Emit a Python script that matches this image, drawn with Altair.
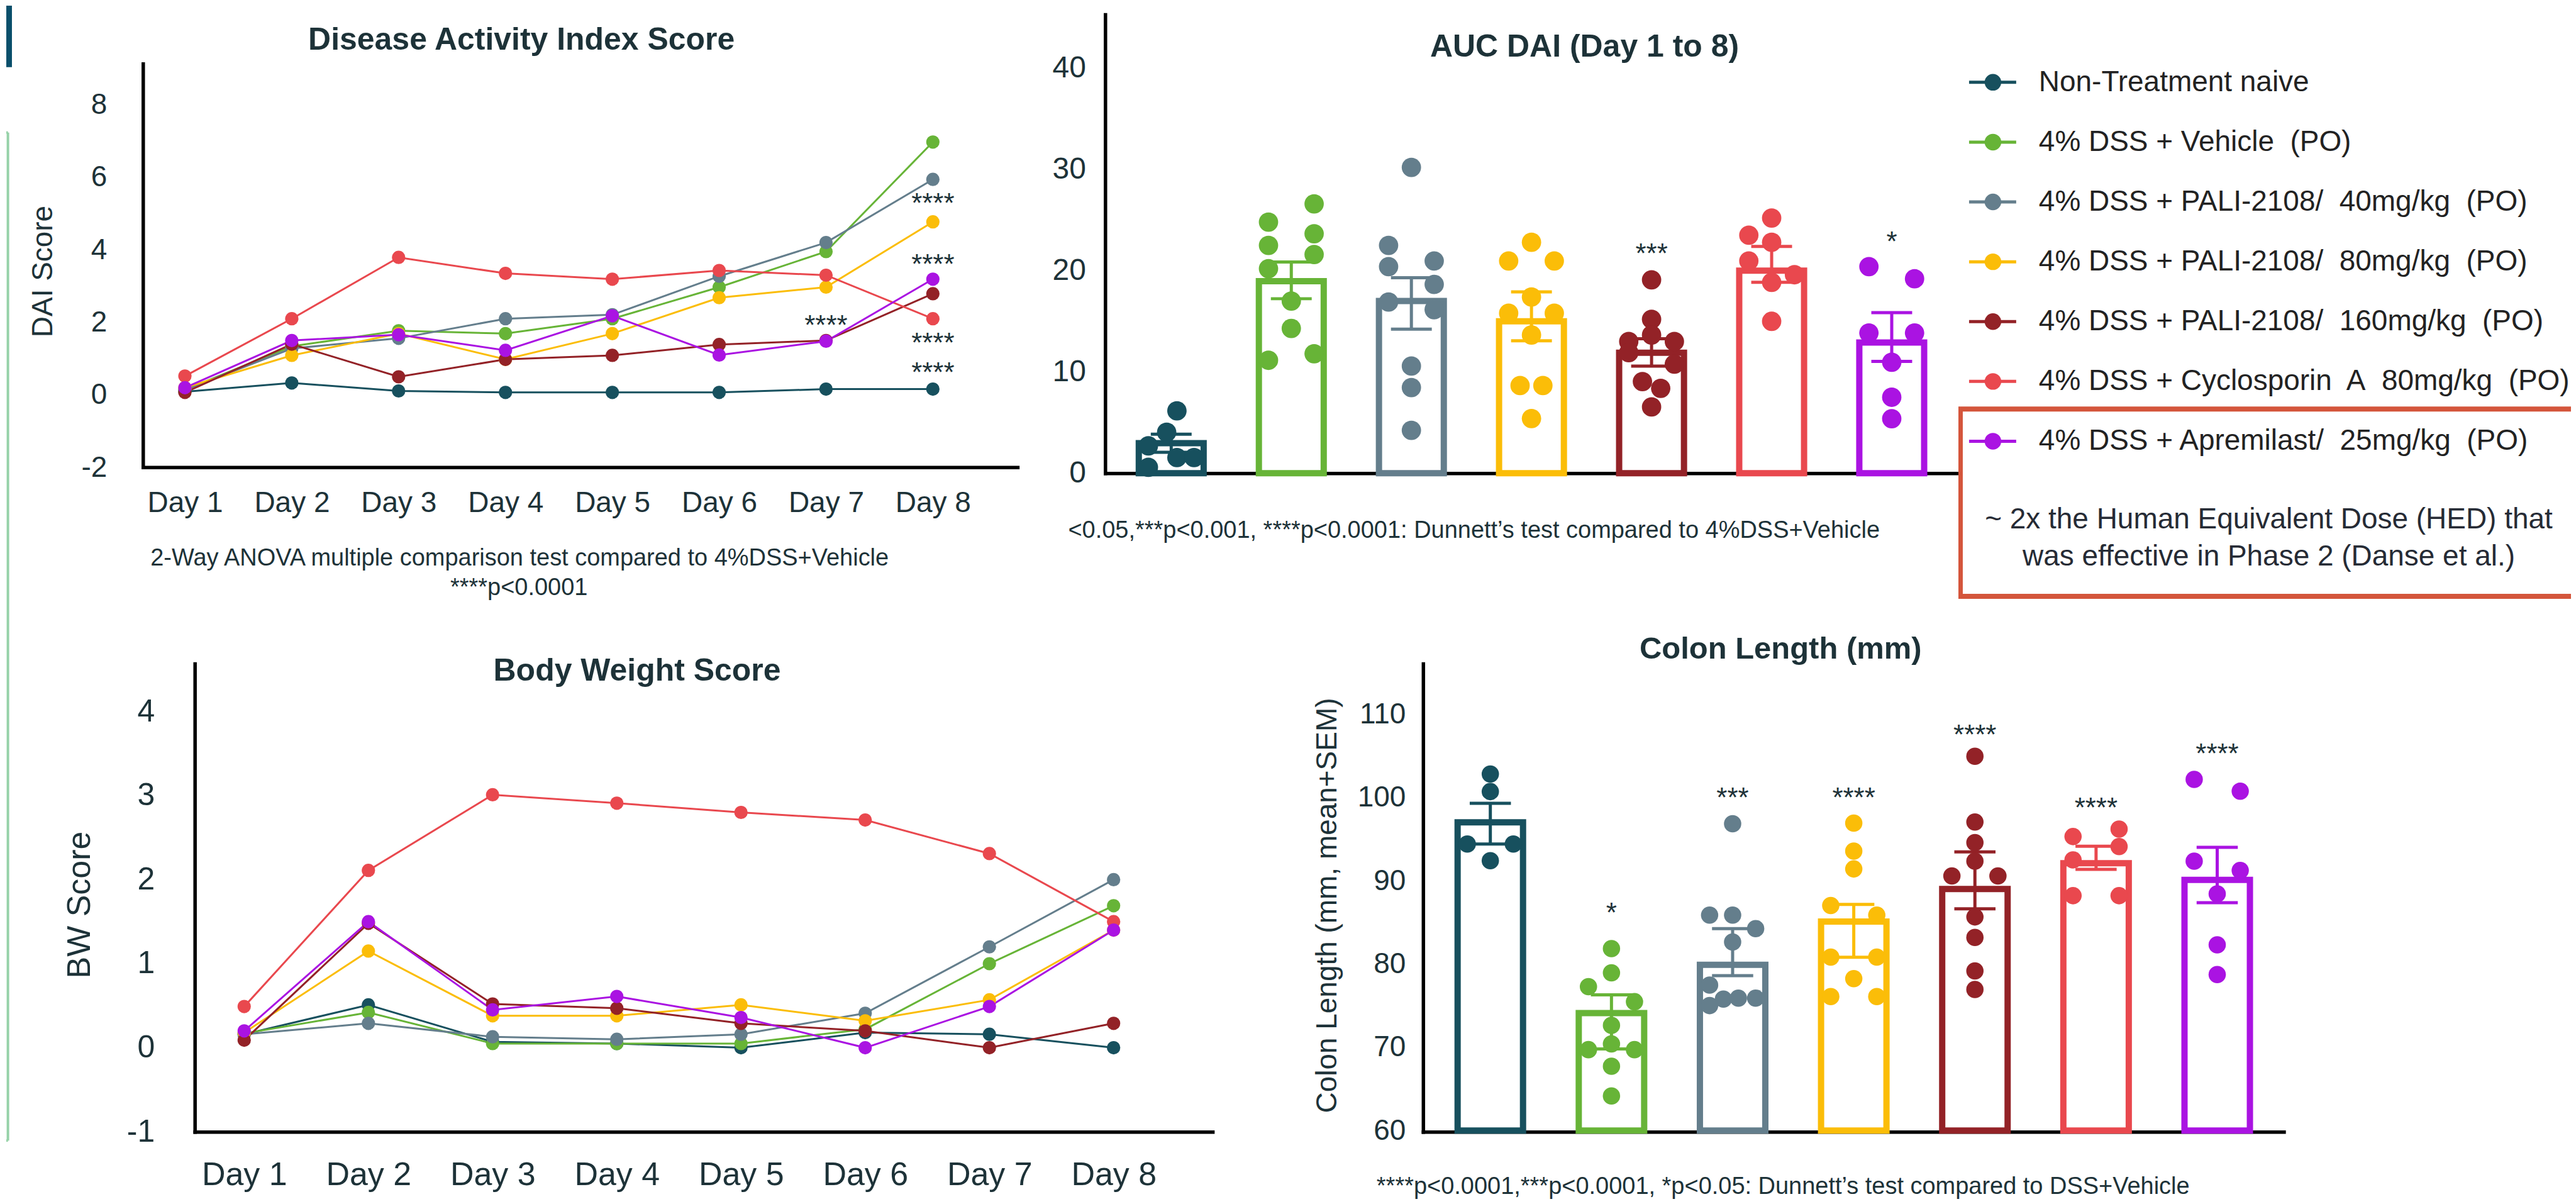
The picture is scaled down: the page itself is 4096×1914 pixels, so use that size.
import altair as alt
import pandas as pd

FONT = "Liberation Sans"
TXT = "#1d3238"

GROUPS = [
    "Non-Treatment naive",
    "4% DSS + Vehicle (PO)",
    "4% DSS + PALI-2108/ 40mg/kg (PO)",
    "4% DSS + PALI-2108/ 80mg/kg (PO)",
    "4% DSS + PALI-2108/ 160mg/kg (PO)",
    "4% DSS + Cyclosporin A 80mg/kg (PO)",
    "4% DSS + Apremilast/ 25mg/kg (PO)",
]
LEGEND_TEXT = [
    "Non-Treatment naive",
    "4% DSS + Vehicle\u00a0 (PO)",
    "4% DSS + PALI-2108/\u00a0 40mg/kg\u00a0 (PO)",
    "4% DSS + PALI-2108/\u00a0 80mg/kg\u00a0 (PO)",
    "4% DSS + PALI-2108/\u00a0 160mg/kg\u00a0 (PO)",
    "4% DSS + Cyclosporin\u00a0 A\u00a0 80mg/kg\u00a0 (PO)",
    "4% DSS + Apremilast/\u00a0 25mg/kg\u00a0 (PO)",
]
COLORS = ["#17505e", "#67b437", "#647e8c", "#fbbd08", "#932227", "#e9484e", "#aa13e2"]

DAYS = [1, 2, 3, 4, 5, 6, 7, 8]

# Disease Activity Index score per day
dai_naive = [0.09, 0.33, 0.11, 0.07, 0.07, 0.07, 0.16, 0.16]
dai_vehicle = [0.14, 1.34, 1.77, 1.69, 2.10, 2.97, 3.95, 6.97]
dai_p40 = [0.14, 1.28, 1.56, 2.10, 2.21, 3.27, 4.20, 5.94]
dai_p80 = [0.20, 1.09, 1.69, 0.98, 1.69, 2.68, 2.97, 4.77]
dai_p160 = [0.07, 1.40, 0.50, 0.98, 1.09, 1.39, 1.50, 2.79]
dai_cyclo = [0.52, 2.10, 3.79, 3.35, 3.19, 3.43, 3.30, 2.10]
dai_apre = [0.20, 1.50, 1.66, 1.23, 2.18, 1.10, 1.48, 3.19]
dai_star_day = [8, 8, 8, 8, 7]
dai_star_val = [5.45, 3.77, 1.61, 0.79, 2.10]
dai_star_txt = ["****", "****", "****", "****", "****"]

# Body weight score per day
bw_naive = [0.16, 0.51, 0.07, 0.05, 0.00, 0.18, 0.16, 0.00]
bw_vehicle = [0.17, 0.42, 0.05, 0.05, 0.05, 0.22, 1.00, 1.69]
bw_p40 = [0.16, 0.29, 0.13, 0.10, 0.16, 0.41, 1.20, 2.00]
bw_p80 = [0.18, 1.15, 0.38, 0.38, 0.51, 0.32, 0.57, 1.40]
bw_p160 = [0.09, 1.48, 0.52, 0.47, 0.29, 0.20, 0.00, 0.29]
bw_cyclo = [0.49, 2.11, 3.01, 2.91, 2.80, 2.71, 2.31, 1.50]
bw_apre = [0.20, 1.50, 0.45, 0.61, 0.36, 0.00, 0.49, 1.40]

# AUC DAI (bars: mean, error bar ends; dots: individual animals, lane = dot column)
auc_mean = [2.96, 18.96, 17.0, 15.0, 11.9, 20.0, 12.9]
auc_hi = [3.85, 20.85, 19.3, 17.9, 13.27, 22.4, 15.85]
auc_lo = [2.07, 17.23, 14.23, 13.08, 10.58, 18.85, 11.04]
auc_v_naive = [6.15, 4.04, 2.7, 1.54, 1.54, 0.58]
auc_l_naive = [0.25, -0.2, -1, 0.25, 1, -1]
auc_v_vehicle = [24.8, 26.6, 23.65, 22.5, 21.6, 20.2, 17.0, 14.3, 11.8, 11.15]
auc_l_vehicle = [-1, 1, 1, -1, 1, -1, 0, 0, 1, -1]
auc_v_p40 = [30.2, 22.5, 20.96, 20.4, 18.65, 16.9, 16.15, 10.58, 8.46, 4.23]
auc_l_p40 = [0, -1, 1, -1, 1, -1, 1, 0, 0, 0]
auc_v_p80 = [22.8, 20.96, 20.96, 17.4, 15.8, 15.8, 13.65, 8.65, 8.65, 5.4]
auc_l_p80 = [0, -1, 1, 0, -1, 1, 0, -0.5, 0.5, 0]
auc_v_p160 = [19.1, 15.2, 13.65, 13.0, 13.0, 11.9, 10.77, 9.04, 8.38, 6.54]
auc_l_p160 = [0, 0, 0, -1, 1, -1, 1, -0.4, 0.4, 0]
auc_v_cyclo = [25.2, 23.5, 22.8, 20.96, 19.6, 18.85, 15.0]
auc_l_cyclo = [0, -1, 0, -1, 1, 0, 0]
auc_v_apre = [20.4, 19.2, 13.85, 13.85, 10.96, 7.5, 5.38]
auc_l_apre = [-1, 1, -1, 1, 0, 0, 0]
auc_star_i = [4, 6]
auc_star_val = [22.3, 23.5]
auc_star_txt = ["***", "*"]

# Colon length
col_mean = [97.0, 74.1, 79.9, 85.1, 89.0, 92.1, 90.1]
col_hi = [99.3, 76.3, 84.25, 87.15, 93.46, 94.14, 94.0]
col_lo = [94.4, 69.8, 78.6, 80.8, 86.63, 91.37, 87.35]
col_v_naive = [102.8, 100.7, 94.4, 94.4, 92.4]
col_l_naive = [0, 0, -1, 1, 0]
col_v_vehicle = [81.85, 78.93, 77.28, 75.47, 72.63, 70.4, 69.71, 69.71, 67.72, 64.15]
col_l_vehicle = [0, 0, -1, 1, 0, 0, -1, 1, 0, 0]
col_v_p40 = [96.84, 85.86, 85.86, 84.25, 82.63, 77.46, 75.78, 75.9, 75.9, 75.0]
col_l_p40 = [0, -1, 0, 1, 0, -1, -0.4, 0.25, 1, -1]
col_v_p80 = [96.92, 93.56, 91.41, 87.02, 85.86, 80.82, 80.82, 78.24, 76.09, 76.09]
col_l_p80 = [0, 0, 0, -1, 1, -1, 1, 0, -1, 1]
col_v_p160 = [104.94, 97.04, 94.58, 92.35, 90.57, 90.57, 85.65, 83.19, 79.17, 76.94]
col_l_p160 = [0, 0, 0, 0, -1, 1, 0, 0, 0, 0]
col_v_cyclo = [96.2, 95.3, 94.1, 92.5, 88.2, 88.2]
col_l_cyclo = [1, -1, 1, -1, -1, 1]
col_v_apre = [102.17, 100.74, 92.35, 91.23, 88.42, 82.3, 78.73]
col_l_apre = [-1, 1, -1, 1, 0, 0, 0]
col_star_i = [1, 2, 3, 4, 5, 6]
col_star_val = [86.9, 100.7, 100.7, 108.3, 99.5, 106.0]
col_star_txt = ["*", "***", "****", "****", "****", "****"]

# ---------------------------------------------------------------- tables
def long_df(series):
    rows = []
    for k, s in enumerate(series):
        for d, v in zip(DAYS, s):
            rows.append({"g": GROUPS[k], "day": d, "v": v})
    return pd.DataFrame(rows)


def dots_df(vals, lanes):
    rows = []
    for k, (vs, ls) in enumerate(zip(vals, lanes)):
        for v, l in zip(vs, ls):
            rows.append({"g": GROUPS[k], "i": k, "lane": l, "v": v})
    return pd.DataFrame(rows)


def bars_df(mean, lo, hi):
    return pd.DataFrame({"g": GROUPS, "i": list(range(len(GROUPS))),
                         "mean": mean, "lo": lo, "hi": hi})


dai_df = long_df([dai_naive, dai_vehicle, dai_p40, dai_p80, dai_p160, dai_cyclo, dai_apre])
bw_df = long_df([bw_naive, bw_vehicle, bw_p40, bw_p80, bw_p160, bw_cyclo, bw_apre])
dai_star_df = pd.DataFrame({"day": dai_star_day, "v": dai_star_val, "t": dai_star_txt})
auc_dots = dots_df([auc_v_naive, auc_v_vehicle, auc_v_p40, auc_v_p80, auc_v_p160, auc_v_cyclo, auc_v_apre],
                   [auc_l_naive, auc_l_vehicle, auc_l_p40, auc_l_p80, auc_l_p160, auc_l_cyclo, auc_l_apre])
auc_bars = bars_df(auc_mean, auc_lo, auc_hi)
auc_star_df = pd.DataFrame({"i": auc_star_i, "v": auc_star_val, "t": auc_star_txt})
col_dots = dots_df([col_v_naive, col_v_vehicle, col_v_p40, col_v_p80, col_v_p160, col_v_cyclo, col_v_apre],
                   [col_l_naive, col_l_vehicle, col_l_p40, col_l_p80, col_l_p160, col_l_cyclo, col_l_apre])
col_bars = bars_df(col_mean, col_lo, col_hi)
col_star_df = pd.DataFrame({"i": col_star_i, "v": col_star_val, "t": col_star_txt})
leg_df = pd.DataFrame({"g": GROUPS, "li": list(range(len(GROUPS))), "label": LEGEND_TEXT})
ONE = pd.DataFrame({"a": [0]})

COLOR_SCALE = alt.Scale(domain=GROUPS, range=COLORS)


def color():
    return alt.Color("g:N", scale=COLOR_SCALE, legend=None)


def txt(s, x, y, size, bold=False, angle=0, col=TXT, align="center"):
    kw = dict(text=s, font=FONT, fontSize=size, fontWeight="bold" if bold else "normal",
              align=align, baseline="middle", color=col)
    if angle:
        kw["angle"] = angle
    return alt.Chart(ONE).mark_text(**kw).encode(x=alt.value(x), y=alt.value(y))


def spacer(w, h):
    return alt.Chart(ONE).mark_point(opacity=0).encode(
        x=alt.value(0), y=alt.value(0)).properties(width=w, height=h)


# ---------------------------------------------------------------- DAI panel
W_DAI, H_TOP = 1392, 730
dai_xs = alt.Scale(domain=[0.61, 8.795], nice=False, zero=False)
dai_ys = alt.Scale(domain=[-2.156, 10.487], nice=False, zero=False)
dai_xa = alt.Axis(values=DAYS, labelExpr="'Day ' + datum.value", domain=False,
                  labelFontSize=46, labelPadding=25, title=None, labelFlush=False,
                  labelOverlap=False)
dai_ya = alt.Axis(values=[-2, 0, 2, 4, 6, 8], labelExpr="'' + datum.value", domain=False,
                  labelFontSize=46, labelPadding=58, title=None)


def dx(f):
    return alt.X(f, scale=dai_xs, axis=dai_xa)


def dy(f):
    return alt.Y(f, scale=dai_ys, axis=dai_ya)


GREEN = "#96d2a8"
dai = alt.layer(
    alt.Chart(ONE).mark_rect(color="#0a4f6b").encode(
        x=alt.value(-218), x2=alt.value(-209), y=alt.value(-14), y2=alt.value(84)),
    alt.Chart(ONE).mark_rule(color=GREEN, strokeWidth=4).encode(
        x=alt.value(-215.4), y=alt.value(188), y2=alt.value(1792)),
    alt.Chart(ONE).mark_rule(color=GREEN, strokeWidth=4).encode(
        x=alt.value(-218), x2=alt.value(-215.4), y=alt.value(188)),
    alt.Chart(ONE).mark_rule(color=GREEN, strokeWidth=4).encode(
        x=alt.value(-218), x2=alt.value(-215.4), y=alt.value(1792)),
    alt.Chart(ONE).mark_rule(color="black", strokeWidth=5.5, strokeCap="square").encode(
        x=alt.value(0), y=alt.datum(-2), y2=alt.datum(9.119)),
    alt.Chart(ONE).mark_rule(color="black", strokeWidth=5.5, strokeCap="square").encode(
        y=alt.datum(-2), x=alt.value(0), x2=alt.value(W_DAI)),
    alt.Chart(dai_df).mark_line(strokeWidth=3).encode(x=dx("day:Q"), y=dy("v:Q"), color=color()),
    alt.Chart(dai_df).mark_circle(size=450, opacity=1).encode(x=dx("day:Q"), y=dy("v:Q"), color=color()),
    alt.Chart(dai_star_df).mark_text(font=FONT, fontSize=44, dy=12, color=TXT).encode(
        x=dx("day:Q"), y=dy("v:Q"), text="t:N"),
    txt("Disease Activity Index Score", 602, 41, 50, bold=True),
    txt("DAI Score", -159, 409, 46, angle=270),
    txt("2-Way ANOVA multiple comparison test compared to 4%DSS+Vehicle", 599, 866, 38),
    txt("****p<0.0001", 598, 913, 38),
).properties(width=W_DAI, height=H_TOP)

# ---------------------------------------------------------------- bar + dots panels
def bar_panel(bars, dots, stars, xs, ys, xa, ya, base, dot_size):
    def bx(f):
        return alt.X(f, scale=xs, axis=xa)

    def by(f):
        return alt.Y(f, scale=ys, axis=ya)

    return [
        alt.Chart(bars).transform_calculate(x0="datum.i - 0.27", x1="datum.i + 0.27").mark_bar(
            fill="white", strokeWidth=10).encode(
            x=bx("x0:Q"), x2="x1:Q", y=by("mean:Q"), y2=alt.datum(base),
            stroke=alt.Stroke("g:N", scale=COLOR_SCALE, legend=None)),
        alt.Chart(bars).mark_rule(strokeWidth=5).encode(
            x=bx("i:Q"), y=by("lo:Q"), y2="hi:Q", color=color()),
        alt.Chart(bars).transform_calculate(c0="datum.i - 0.17", c1="datum.i + 0.17").mark_rule(
            strokeWidth=5).encode(x=bx("c0:Q"), x2="c1:Q", y=by("hi:Q"), color=color()),
        alt.Chart(bars).transform_calculate(c0="datum.i - 0.17", c1="datum.i + 0.17").mark_rule(
            strokeWidth=5).encode(x=bx("c0:Q"), x2="c1:Q", y=by("lo:Q"), color=color()),
        alt.Chart(dots).transform_calculate(px="datum.i + datum.lane * 0.19").mark_circle(
            size=dot_size, opacity=1).encode(x=bx("px:Q"), y=by("v:Q"), color=color()),
        alt.Chart(stars).mark_text(font=FONT, fontSize=44, dy=12, color=TXT).encode(
            x=bx("i:Q"), y=by("v:Q"), text="t:N"),
    ]


W_AUC = 1358
auc_xs = alt.Scale(domain=[-0.55, 6.555], nice=False, zero=False)
auc_ys = alt.Scale(domain=[0, 45.31], nice=False, zero=False)
auc_xa = alt.Axis(labels=False, domain=True, title=None)
auc_ya = alt.Axis(values=[0, 10, 20, 30, 40], labelFontSize=48, labelPadding=31, title=None)
auc = alt.layer(
    *bar_panel(auc_bars, auc_dots, auc_star_df, auc_xs, auc_ys, auc_xa, auc_ya, 0, 950),
    txt("AUC DAI (Day 1 to 8)", 763, 52, 50, bold=True),
    txt("<0.05,***p<0.001, ****p<0.0001: Dunnett\u2019s test compared to 4%DSS+Vehicle", 587, 822, 38),
).properties(width=W_AUC, height=H_TOP)

# ---------------------------------------------------------------- legend panel
W_LEG, H_LEG = 975, 935
leg_ys = alt.Scale(domain=[8.687, -1.1345], nice=False, zero=False)
ly = alt.Y("li:Q", scale=leg_ys, axis=None)
legend = alt.layer(
    alt.Chart(leg_df).mark_rule(strokeWidth=5).encode(
        x=alt.value(17), x2=alt.value(92), y=ly, color=color()),
    alt.Chart(leg_df).mark_circle(size=700, opacity=1).encode(x=alt.value(55), y=ly, color=color()),
    alt.Chart(leg_df).mark_text(font=FONT, fontSize=46, align="left", baseline="middle",
                                color="#222222", clip=True).encode(
        x=alt.value(128), y=ly, text="label:N"),
    alt.Chart(ONE).mark_rect(fillOpacity=0, stroke="#d4553b", strokeWidth=8, clip=True).encode(
        x=alt.value(3), x2=alt.value(1200), y=alt.value(628), y2=alt.value(926)),
    txt("~ 2x the Human Equivalent Dose (HED) that", 494, 804, 46, col="#262b35"),
    txt("was effective in Phase 2 (Danse et al.)", 494, 863, 46, col="#262b35"),
).properties(width=W_LEG, height=H_LEG)

# ---------------------------------------------------------------- BW panel
W_BW, H_BOT = 1620, 745
bw_xs = alt.Scale(domain=[0.602, 8.797], nice=False, zero=False)
bw_ys = alt.Scale(domain=[-1, 4.571], nice=False, zero=False)
bw_xa = alt.Axis(values=DAYS, labelExpr="'Day ' + datum.value", domain=True,
                 labelFontSize=52, labelPadding=43, title=None, labelFlush=False,
                 labelOverlap=False)
bw_ya = alt.Axis(values=[-1, 0, 1, 2, 3, 4], labelExpr="'' + datum.value",
                 labelFontSize=50, labelPadding=64, title=None)
bw = alt.layer(
    alt.Chart(bw_df).mark_line(strokeWidth=3).encode(
        x=alt.X("day:Q", scale=bw_xs, axis=bw_xa), y=alt.Y("v:Q", scale=bw_ys, axis=bw_ya), color=color()),
    alt.Chart(bw_df).mark_circle(size=450, opacity=1).encode(
        x=alt.X("day:Q", scale=bw_xs, axis=bw_xa), y=alt.Y("v:Q", scale=bw_ys, axis=bw_ya), color=color()),
    txt("Body Weight Score", 704, 12, 50, bold=True),
    txt("BW Score", -183, 384, 52, angle=270),
).properties(width=W_BW, height=H_BOT)

# ---------------------------------------------------------------- Colon panel
W_COL = 1370
col_xs = alt.Scale(domain=[-0.555, 6.55], nice=False, zero=False)
col_ys = alt.Scale(domain=[59.85, 116.07], nice=False, zero=False)
col_xa = alt.Axis(labels=False, domain=True, title=None)
col_ya = alt.Axis(values=[60, 70, 80, 90, 100, 110], labelFontSize=46, labelPadding=28, title=None)
colon = alt.layer(
    *bar_panel(col_bars, col_dots, col_star_df, col_xs, col_ys, col_xa, col_ya, 60, 760),
    txt("Colon Length (mm)", 569, -23, 49, bold=True),
    txt("Colon Length (mm, mean+SEM)", -152, 385, 46, angle=270),
    txt("****p<0.0001,***p<0.0001, *p<0.05: Dunnett\u2019s test compared to DSS+Vehicle", 573, 833, 38),
).properties(width=W_COL, height=H_BOT)

# ---------------------------------------------------------------- assemble
row1 = alt.hconcat(dai, spacer(139, H_TOP), auc, legend, spacing=0, bounds="flush")
row2 = alt.hconcat(spacer(82, H_BOT), bw, spacer(335, H_BOT), colon, spacing=0, bounds="flush")

# with flush bounds a nested concat counts as zero height, so the spacing is the
# full distance between the tops of the two rows' plot areas
chart = alt.vconcat(row1, row2, spacing=1033, bounds="flush").properties(
    padding=0, background="white"
).configure_view(stroke=None).configure_axis(
    labelFont=FONT, labelColor=TXT, grid=False, ticks=False, tickSize=0,
    domainColor="black", domainWidth=5.5, domainCap="square",
)

chart.save("out.html", embed_options={"renderer": "svg", "actions": False})
